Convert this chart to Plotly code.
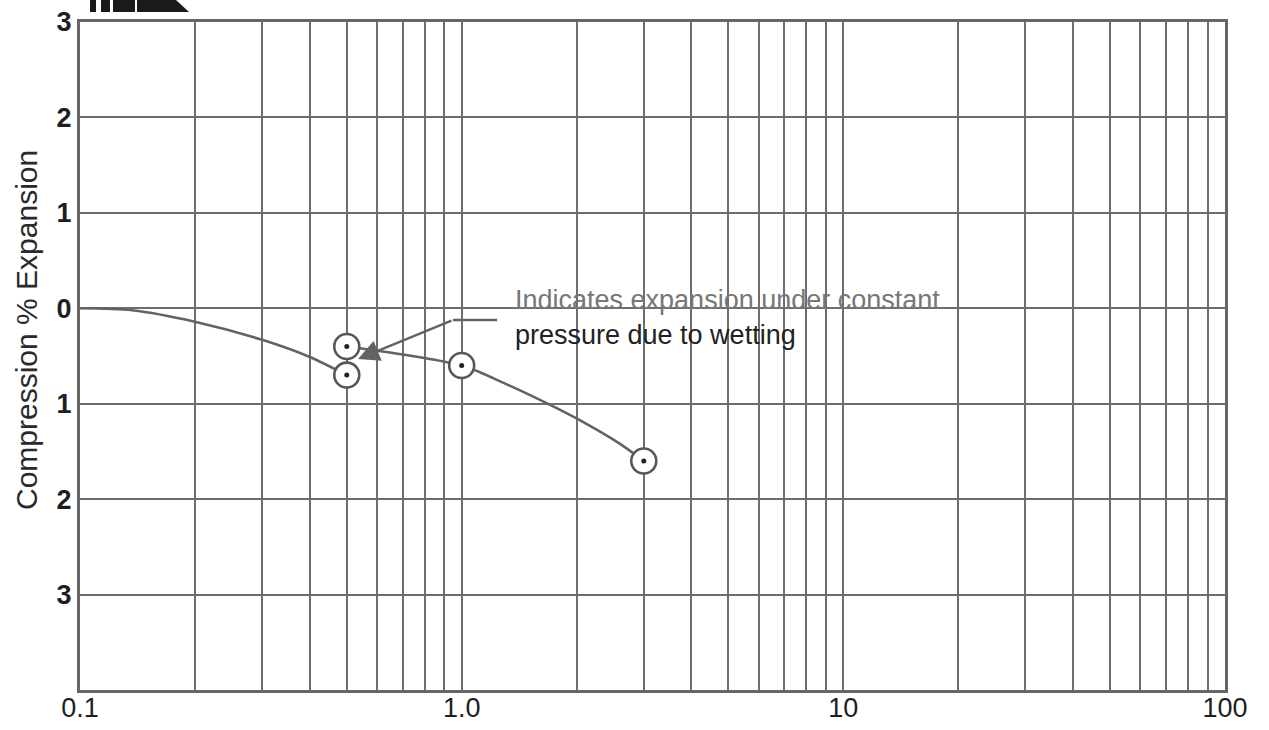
import plotly.graph_objects as go

# ---- data ----
curve1_x = [0.1, 0.137, 0.2, 0.3, 0.4, 0.5]
curve1_y = [0.0, -0.02, -0.14, -0.33, -0.51, -0.7]
curve2_x = [0.5, 1.0, 1.3, 1.7, 2.1, 2.6, 3.0]
curve2_y = [-0.4, -0.6, -0.79, -1.01, -1.2, -1.42, -1.6]
points_x = [0.5, 0.5, 1.0, 3.0]
points_y = [-0.4, -0.7, -0.6, -1.6]

x_major = [0.1, 1, 10, 100]
x_major_text = ["0.1", "1.0", "10", "100"]
x_grid = [m * d for d in [0.1, 1, 10] for m in range(1, 10)] + [100]
x_grid_text = [x_major_text[x_major.index(v)] if v in x_major else "" for v in x_grid]
y_ticks = [3, 2, 1, 0, -1, -2, -3, -4]
y_tick_text = ["3", "2", "1", "0", "1", "2", "3", ""]

annot_line1 = "Indicates expansion under constant"
annot_line2 = "pressure due to wetting"
y_title = "Compression % Expansion"

FONT = "Liberation Sans, Arial, sans-serif"
GRID = "#6e6e6e"
LINE = "#636363"

# ---- layout geometry (pixels) ----
W, H = 1269, 730
L, R, T, B = 80, 44, 22, 40
PW, PH = W - L - R, H - T - B


def px(xp):
    return (xp - L) / PW


def py(yp):
    return (H - B - yp) / PH


fig = go.Figure()
fig.add_trace(go.Scatter(x=curve1_x, y=curve1_y, mode="lines",
                         line=dict(color=LINE, width=2.6, shape="spline", smoothing=0.8),
                         hoverinfo="skip", showlegend=False))
fig.add_trace(go.Scatter(x=curve2_x, y=curve2_y, mode="lines",
                         line=dict(color=LINE, width=2.6, shape="spline", smoothing=0.8),
                         hoverinfo="skip", showlegend=False))
fig.add_trace(go.Scatter(x=points_x, y=points_y, mode="markers",
                         marker=dict(symbol="circle", size=25, color="white",
                                     line=dict(color="#575757", width=2.6)),
                         showlegend=False))
fig.add_trace(go.Scatter(x=points_x, y=points_y, mode="markers",
                         marker=dict(symbol="circle", size=5, color="#222222",
                                     line=dict(width=0)),
                         hoverinfo="skip", showlegend=False))

shapes = [
    # leader line horizontal segment
    dict(type="line", xref="paper", yref="paper",
         x0=px(453), x1=px(497), y0=py(320), y1=py(320),
         line=dict(color=LINE, width=2.5)),
]
# cropped logo fragment at top-left
for x0, x1 in [(90, 96), (101, 110), (113, 135), (137, 160)]:
    shapes.append(dict(type="rect", xref="paper", yref="paper",
                       x0=px(x0), x1=px(x1), y0=py(12), y1=py(0),
                       fillcolor="#1a1a1a", line=dict(width=0)))
shapes.append(dict(type="path", xref="paper", yref="paper",
                   path=f"M {px(160)} {py(0)} L {px(176)} {py(0)} L {px(189)} {py(12)} L {px(160)} {py(12)} Z",
                   fillcolor="#1a1a1a", line=dict(width=0)))

annotations = [
    dict(xref="paper", yref="paper", x=px(358), y=py(359), ax=95, ay=-39,
         text="", showarrow=True, arrowhead=2, arrowsize=1.7, arrowwidth=2.5,
         arrowcolor=LINE),
    dict(xref="paper", yref="paper", x=px(513), y=py(300), xanchor="left",
         yanchor="middle", text=annot_line1, showarrow=False,
         font=dict(family=FONT, size=27, color="#777777")),
    dict(xref="paper", yref="paper", x=px(513), y=py(335), xanchor="left",
         yanchor="middle", text=annot_line2, showarrow=False,
         font=dict(family=FONT, size=27, color="#222222")),
    dict(xref="paper", yref="paper", x=px(26), y=py(330), textangle=-90,
         xanchor="center", yanchor="middle", text=y_title, showarrow=False,
         font=dict(family=FONT, size=30, color="#2a2a2a")),
]

fig.update_layout(
    width=W, height=H,
    margin=dict(l=L, r=R, t=T, b=B, autoexpand=False),
    paper_bgcolor="white", plot_bgcolor="white",
    shapes=shapes, annotations=annotations,
    xaxis=dict(type="log", range=[-1, 2], tickvals=x_grid, ticktext=x_grid_text,
               showgrid=True, gridcolor=GRID, gridwidth=2, ticks="",
               showline=True, linecolor="#666666", linewidth=3, mirror=True,
               zeroline=False, automargin=False, ticklabelstandoff=-8,
               tickfont=dict(family=FONT, size=27, color="#1e1e1e")),
    yaxis=dict(range=[-4, 3], tickvals=y_ticks, ticktext=y_tick_text,
               showgrid=True, gridcolor=GRID, gridwidth=2, ticks="",
               showline=True, linecolor="#666666", linewidth=3, mirror=True,
               zeroline=False, automargin=False,
               tickfont=dict(family=FONT, size=27, color="#1e1e1e", weight="bold")),
)

fig.write_html("out.html")
